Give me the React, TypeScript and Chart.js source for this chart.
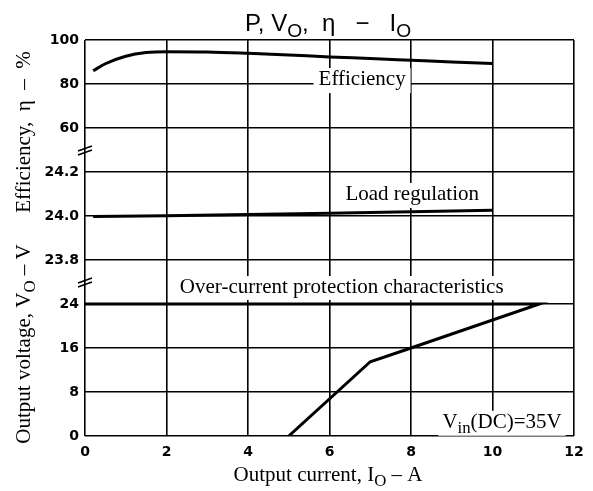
import React, { useEffect, useRef } from "react";
import { Chart, registerables } from "chart.js";

Chart.register(...registerables);

// ---- data ----
const xTicks = [0, 2, 4, 6, 8, 10, 12];
const effTicks = [60, 80, 100];
const voltTicks = [23.8, 24.0, 24.2];
const ocTicks = [0, 8, 16, 24];

const effCurrent = [0.2, 0.5, 1, 1.5, 2, 3, 4, 5, 6, 7, 8, 9, 10];
const effValues = [86, 89.2, 92.6, 94.3, 94.7, 94.6, 94.0, 93.2, 92.3, 91.6, 90.8, 90.0, 89.3];

const loadCurrent = [0.2, 2, 4, 6, 8, 10];
const loadValues = [23.998, 24.001, 24.007, 24.013, 24.019, 24.026];

const ocCurrent = [0, 11.15, 8, 7, 5];
const ocValues = [24, 24, 16, 13.5, 0];

const SERIF = '"Liberation Serif", "Times New Roman", serif';
const SANS = '"Liberation Sans", Arial, sans-serif';
const TICKFONT = '"DejaVu Sans", sans-serif';

type Seg = { t: string; sub?: boolean };

function measureRich(ctx: CanvasRenderingContext2D, segs: Seg[], size: number, family: string) {
  return segs.map((s) => {
    ctx.font = `${s.sub ? size * 0.8 : size}px ${family}`;
    return ctx.measureText(s.t).width;
  });
}

function drawRich(
  ctx: CanvasRenderingContext2D,
  segs: Seg[],
  x: number,
  y: number,
  size: number,
  family: string,
  align: "left" | "center" | "right",
  box?: { padX: number; top: number; bottom: number }
) {
  const widths = measureRich(ctx, segs, size, family);
  const total = widths.reduce((a, b) => a + b, 0);
  let cx = align === "left" ? x : align === "center" ? x - total / 2 : x - total;
  if (box) {
    ctx.fillStyle = "#fff";
    ctx.fillRect(cx - box.padX, y - box.top, total + 2 * box.padX, box.top + box.bottom);
  }
  ctx.fillStyle = "#000";
  ctx.textAlign = "left";
  ctx.textBaseline = "alphabetic";
  segs.forEach((s, i) => {
    ctx.font = `${s.sub ? size * 0.8 : size}px ${family}`;
    ctx.fillText(s.t, cx, y + (s.sub ? size * 0.26 : 0));
    cx += widths[i];
  });
}

const decorPlugin = {
  id: "decor",
  afterDraw(chart: any) {
    const ctx: CanvasRenderingContext2D = chart.ctx;
    const { x, yEff, yV, yOC } = chart.scales;
    ctx.save();

    // title
    drawRich(
      ctx,
      [{ t: "P, V" }, { t: "O", sub: true }, { t: ",  η   −   I" }, { t: "O", sub: true }],
      328,
      31,
      24,
      SANS,
      "center"
    );

    const box = { padX: 5, top: 17, bottom: 8 };
    // annotations with white background
    drawRich(ctx, [{ t: "Efficiency" }], x.getPixelForValue(6.8), yEff.getPixelForValue(79.5), 21, SERIF, "center", box);
    drawRich(ctx, [{ t: "Load regulation" }], x.getPixelForValue(8.03), yV.getPixelForValue(24.073), 21, SERIF, "center", box);
    drawRich(
      ctx,
      [{ t: "Over-current protection characteristics" }],
      x.getPixelForValue(6.3),
      yOC.getPixelForValue(26.0),
      21,
      SERIF,
      "center",
      { padX: 5, top: 17, bottom: 7 }
    );
    drawRich(
      ctx,
      [{ t: "V" }, { t: "in", sub: true }, { t: "(DC)=35V" }],
      x.getPixelForValue(11.7),
      yOC.getPixelForValue(1.5),
      21,
      SERIF,
      "right",
      { padX: 4, top: 17, bottom: 8 }
    );

    // axis titles
    drawRich(ctx, [{ t: "Output current, I" }, { t: "O", sub: true }, { t: " – A" }], 328, 481, 21, SERIF, "center");

    ctx.save();
    ctx.translate(30, 344);
    ctx.rotate(-Math.PI / 2);
    drawRich(ctx, [{ t: "Output voltage, V" }, { t: "O", sub: true }, { t: " – V" }], 0, 0, 21, SERIF, "center");
    ctx.restore();

    ctx.save();
    ctx.translate(30, 132);
    ctx.rotate(-Math.PI / 2);
    drawRich(ctx, [{ t: "Efficiency,  η  –  %" }], 0, 0, 21, SERIF, "center");
    ctx.restore();

    // axis break marks
    const left = chart.chartArea.left;
    [yEff.bottom, yV.bottom].forEach((b: number) => {
      ctx.strokeStyle = "#000";
      ctx.lineWidth = 1.6;
      ctx.beginPath();
      ctx.moveTo(left - 7, b + 1);
      ctx.lineTo(left + 7, b - 4);
      ctx.moveTo(left - 7, b + 5);
      ctx.lineTo(left + 7, b);
      ctx.stroke();
    });

    ctx.restore();
  },
};

function pts(xs: number[], ys: number[]) {
  return xs.map((v, i) => ({ x: v, y: ys[i] }));
}

const tickFont = { family: TICKFONT, size: 14, weight: "bold" as const };

function yAxis(min: number, max: number, weight: number, ticks: number[], digits: number) {
  return {
    type: "linear" as const,
    position: "left" as const,
    stack: "v",
    stackWeight: weight,
    min,
    max,
    afterBuildTicks: (s: any) => {
      s.ticks = ticks.map((v) => ({ value: v }));
    },
    afterFit: (s: any) => {
      s.width = 85;
    },
    grid: { color: "#000", lineWidth: 1.6, drawTicks: false },
    border: { display: false },
    ticks: {
      color: "#000",
      font: tickFont,
      padding: 6,
      callback: (v: any) => Number(v).toFixed(digits),
    },
  };
}

export default function App() {
  const ref = useRef<HTMLCanvasElement | null>(null);

  useEffect(() => {
    if (!ref.current) return;
    const chart = new Chart(ref.current, {
      type: "line",
      data: {
        datasets: [
          {
            data: pts(effCurrent, effValues),
            yAxisID: "yEff",
            borderColor: "#000",
            borderWidth: 3,
            pointRadius: 0,
            cubicInterpolationMode: "monotone",
            fill: false,
          },
          {
            data: pts(loadCurrent, loadValues),
            yAxisID: "yV",
            borderColor: "#000",
            borderWidth: 3,
            pointRadius: 0,
            tension: 0,
            fill: false,
          },
          {
            data: pts(ocCurrent, ocValues),
            yAxisID: "yOC",
            borderColor: "#000",
            borderWidth: 3,
            pointRadius: 0,
            tension: 0,
            fill: false,
          },
        ],
      },
      options: {
        animation: false,
        responsive: false,
        layout: { padding: { top: 40, right: 19, left: 0, bottom: 0 } },
        plugins: { legend: { display: false }, tooltip: { enabled: false }, title: { display: false } },
        scales: {
          x: {
            type: "linear",
            min: 0,
            max: 12,
            afterBuildTicks: (s: any) => {
              s.ticks = xTicks.map((v) => ({ value: v }));
            },
            afterFit: (s: any) => {
              s.height = 55;
            },
            grid: { color: "#000", lineWidth: 1.6, drawTicks: false },
            border: { display: false },
            ticks: { color: "#000", font: tickFont, padding: 8, maxRotation: 0 },
          },
          yOC: yAxis(0, 28, 3.5, ocTicks, 0),
          yV: yAxis(23.7, 24.3, 3, voltTicks, 1),
          yEff: yAxis(50, 100, 2.5, effTicks, 0),
        } as any,
      },
      plugins: [decorPlugin],
    });
    return () => chart.destroy();
  }, []);

  return (
    <div style={{ position: "absolute", left: 0, top: 0, width: 593, height: 491, background: "#fff" }}>
      <canvas ref={ref} width={593} height={491} style={{ display: "block" }} />
    </div>
  );
}
